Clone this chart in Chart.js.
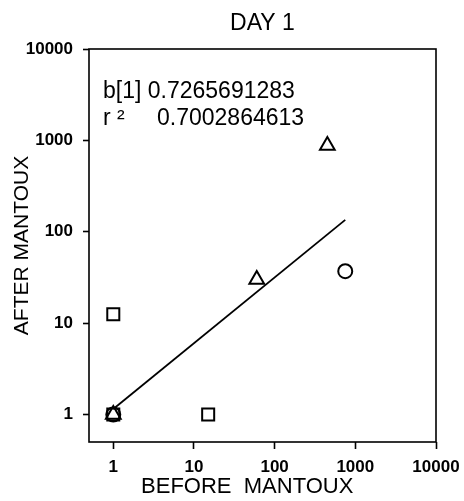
<!DOCTYPE html>
<html>
<head>
<meta charset="utf-8">
<script src="https://cdn.jsdelivr.net/npm/chart.js@4.4.0/dist/chart.umd.min.js"></script>
<style>
  body { margin: 0; background: #fff; }
  #myChart { display: block; }
</style>
</head>
<body>
<canvas id="myChart" width="464" height="501"></canvas>
<script>
    "use strict";

    // values (log-log)
    var squareX = [1, 1, 15];
    var squareY = [1, 12.5, 1];
    var circleX = [1, 750];
    var circleY = [1, 37];
    var triangleX = [1, 60, 450];
    var triangleY = [1, 30, 880];
    // regression line ends
    var fitX = [1, 750];
    var fitY = [1.15, 135];

    var tickValues = [1, 10, 100, 1000, 10000];
    var statLabels = ['b[1]', 'r \u00b2'];
    var statValues = ['0.7265691283', '0.7002864613'];

    function toPoints(xs, ys) {
        return xs.map(function (x, i) { return { x: x, y: ys[i] }; });
    }

    var ctx = document.getElementById('myChart').getContext('2d');

    /* box round the plot + the b[1] / r2 text */
    var framePlugin = {
        id: 'frame',
        beforeDatasetsDraw: function (chart) {
            var a = chart.chartArea;
            var c = chart.ctx;
            c.save();
            c.strokeStyle = '#000';
            c.lineWidth = 1.6;
            c.strokeRect(a.left, a.top, a.right - a.left, a.bottom - a.top);
            c.restore();
        },
        afterDraw: function (chart) {
            var a = chart.chartArea;
            var c = chart.ctx;
            c.save();
            c.fillStyle = '#000';
            c.font = '23px "Liberation Sans", Arial, sans-serif';
            c.textBaseline = 'alphabetic';
            c.textAlign = 'left';
            c.fillText(statLabels[0] + ' ' + statValues[0], a.left + 14, a.top + 49);
            c.fillText(statLabels[1], a.left + 14, a.top + 76);
            c.fillText(statValues[1], a.left + 68, a.top + 76);
            c.restore();
        }
    };

    var tickFont = { family: '"Liberation Sans", Arial, sans-serif', size: 17, weight: 'bold' };

    function fixedTicks(scale) {
        scale.ticks = tickValues.map(function (v) { return { value: v }; });
    }

    var chart = new Chart(ctx, {
        type: 'scatter',
        data: {
            datasets: [
                {
                    label: 'Squares',
                    data: toPoints(squareX, squareY),
                    pointStyle: 'rect',
                    pointRadius: 8.5,
                    borderColor: '#000',
                    backgroundColor: 'rgba(0,0,0,0)',
                    borderWidth: 2
                },
                {
                    label: 'Circles',
                    data: toPoints(circleX, circleY),
                    pointStyle: 'circle',
                    pointRadius: 7,
                    borderColor: '#000',
                    backgroundColor: 'rgba(0,0,0,0)',
                    borderWidth: 2
                },
                {
                    label: 'Triangles',
                    data: toPoints(triangleX, triangleY),
                    pointStyle: 'triangle',
                    pointRadius: 8.5,
                    borderColor: '#000',
                    backgroundColor: 'rgba(0,0,0,0)',
                    borderWidth: 2
                },
                {
                    label: 'Fit',
                    type: 'line',
                    data: toPoints(fitX, fitY),
                    showLine: true,
                    pointRadius: 0,
                    borderColor: '#000',
                    borderWidth: 1.8,
                    fill: false
                }
            ]
        },
        options: {
            responsive: false,
            animation: false,
            layout: {
                padding: { left: 0, right: 28, top: 0, bottom: 0 }
            },
            plugins: {
                legend: { display: false },
                tooltip: { enabled: false },
                title: {
                    display: true,
                    text: 'DAY 1',
                    fullSize: false,
                    color: '#000',
                    font: { family: '"Liberation Sans", Arial, sans-serif', size: 23, weight: 'normal' },
                    padding: { top: 10, bottom: 11.4 }
                }
            },
            scales: {
                x: {
                    type: 'logarithmic',
                    min: 0.5,
                    max: 10000,
                    afterBuildTicks: fixedTicks,
                    afterFit: function (scale) {
                        scale.height = 59;
                        scale.paddingLeft = 0;
                        scale.paddingRight = 0;
                    },
                    border: { display: false },
                    grid: {
                        display: true,
                        drawOnChartArea: false,
                        drawTicks: true,
                        tickLength: 7,
                        tickColor: '#000',
                        tickWidth: 1.6
                    },
                    ticks: {
                        color: '#000',
                        font: tickFont,
                        padding: 8,
                        maxRotation: 0,
                        autoSkip: false,
                        callback: function (v) { return String(v); }
                    },
                    title: {
                        display: true,
                        text: 'BEFORE  MANTOUX     ',
                        color: '#000',
                        font: { family: '"Liberation Sans", Arial, sans-serif', size: 22 },
                        padding: { top: 0, bottom: 1 }
                    }
                },
                y: {
                    type: 'logarithmic',
                    min: 0.5,
                    max: 10000,
                    afterBuildTicks: fixedTicks,
                    afterFit: function (scale) { scale.width = 89; },
                    border: { display: false },
                    grid: {
                        display: true,
                        drawOnChartArea: false,
                        drawTicks: true,
                        tickLength: 6,
                        tickColor: '#000',
                        tickWidth: 1.6
                    },
                    ticks: {
                        color: '#000',
                        font: tickFont,
                        padding: 10,
                        autoSkip: false,
                        callback: function (v) { return String(v); }
                    },
                    title: {
                        display: true,
                        text: 'AFTER MANTOUX',
                        color: '#000',
                        font: { family: '"Liberation Sans", Arial, sans-serif', size: 21 },
                        padding: { top: 10, bottom: 0 }
                    }
                }
            }
        },
        plugins: [framePlugin]
    });
</script>
</body>
</html>
